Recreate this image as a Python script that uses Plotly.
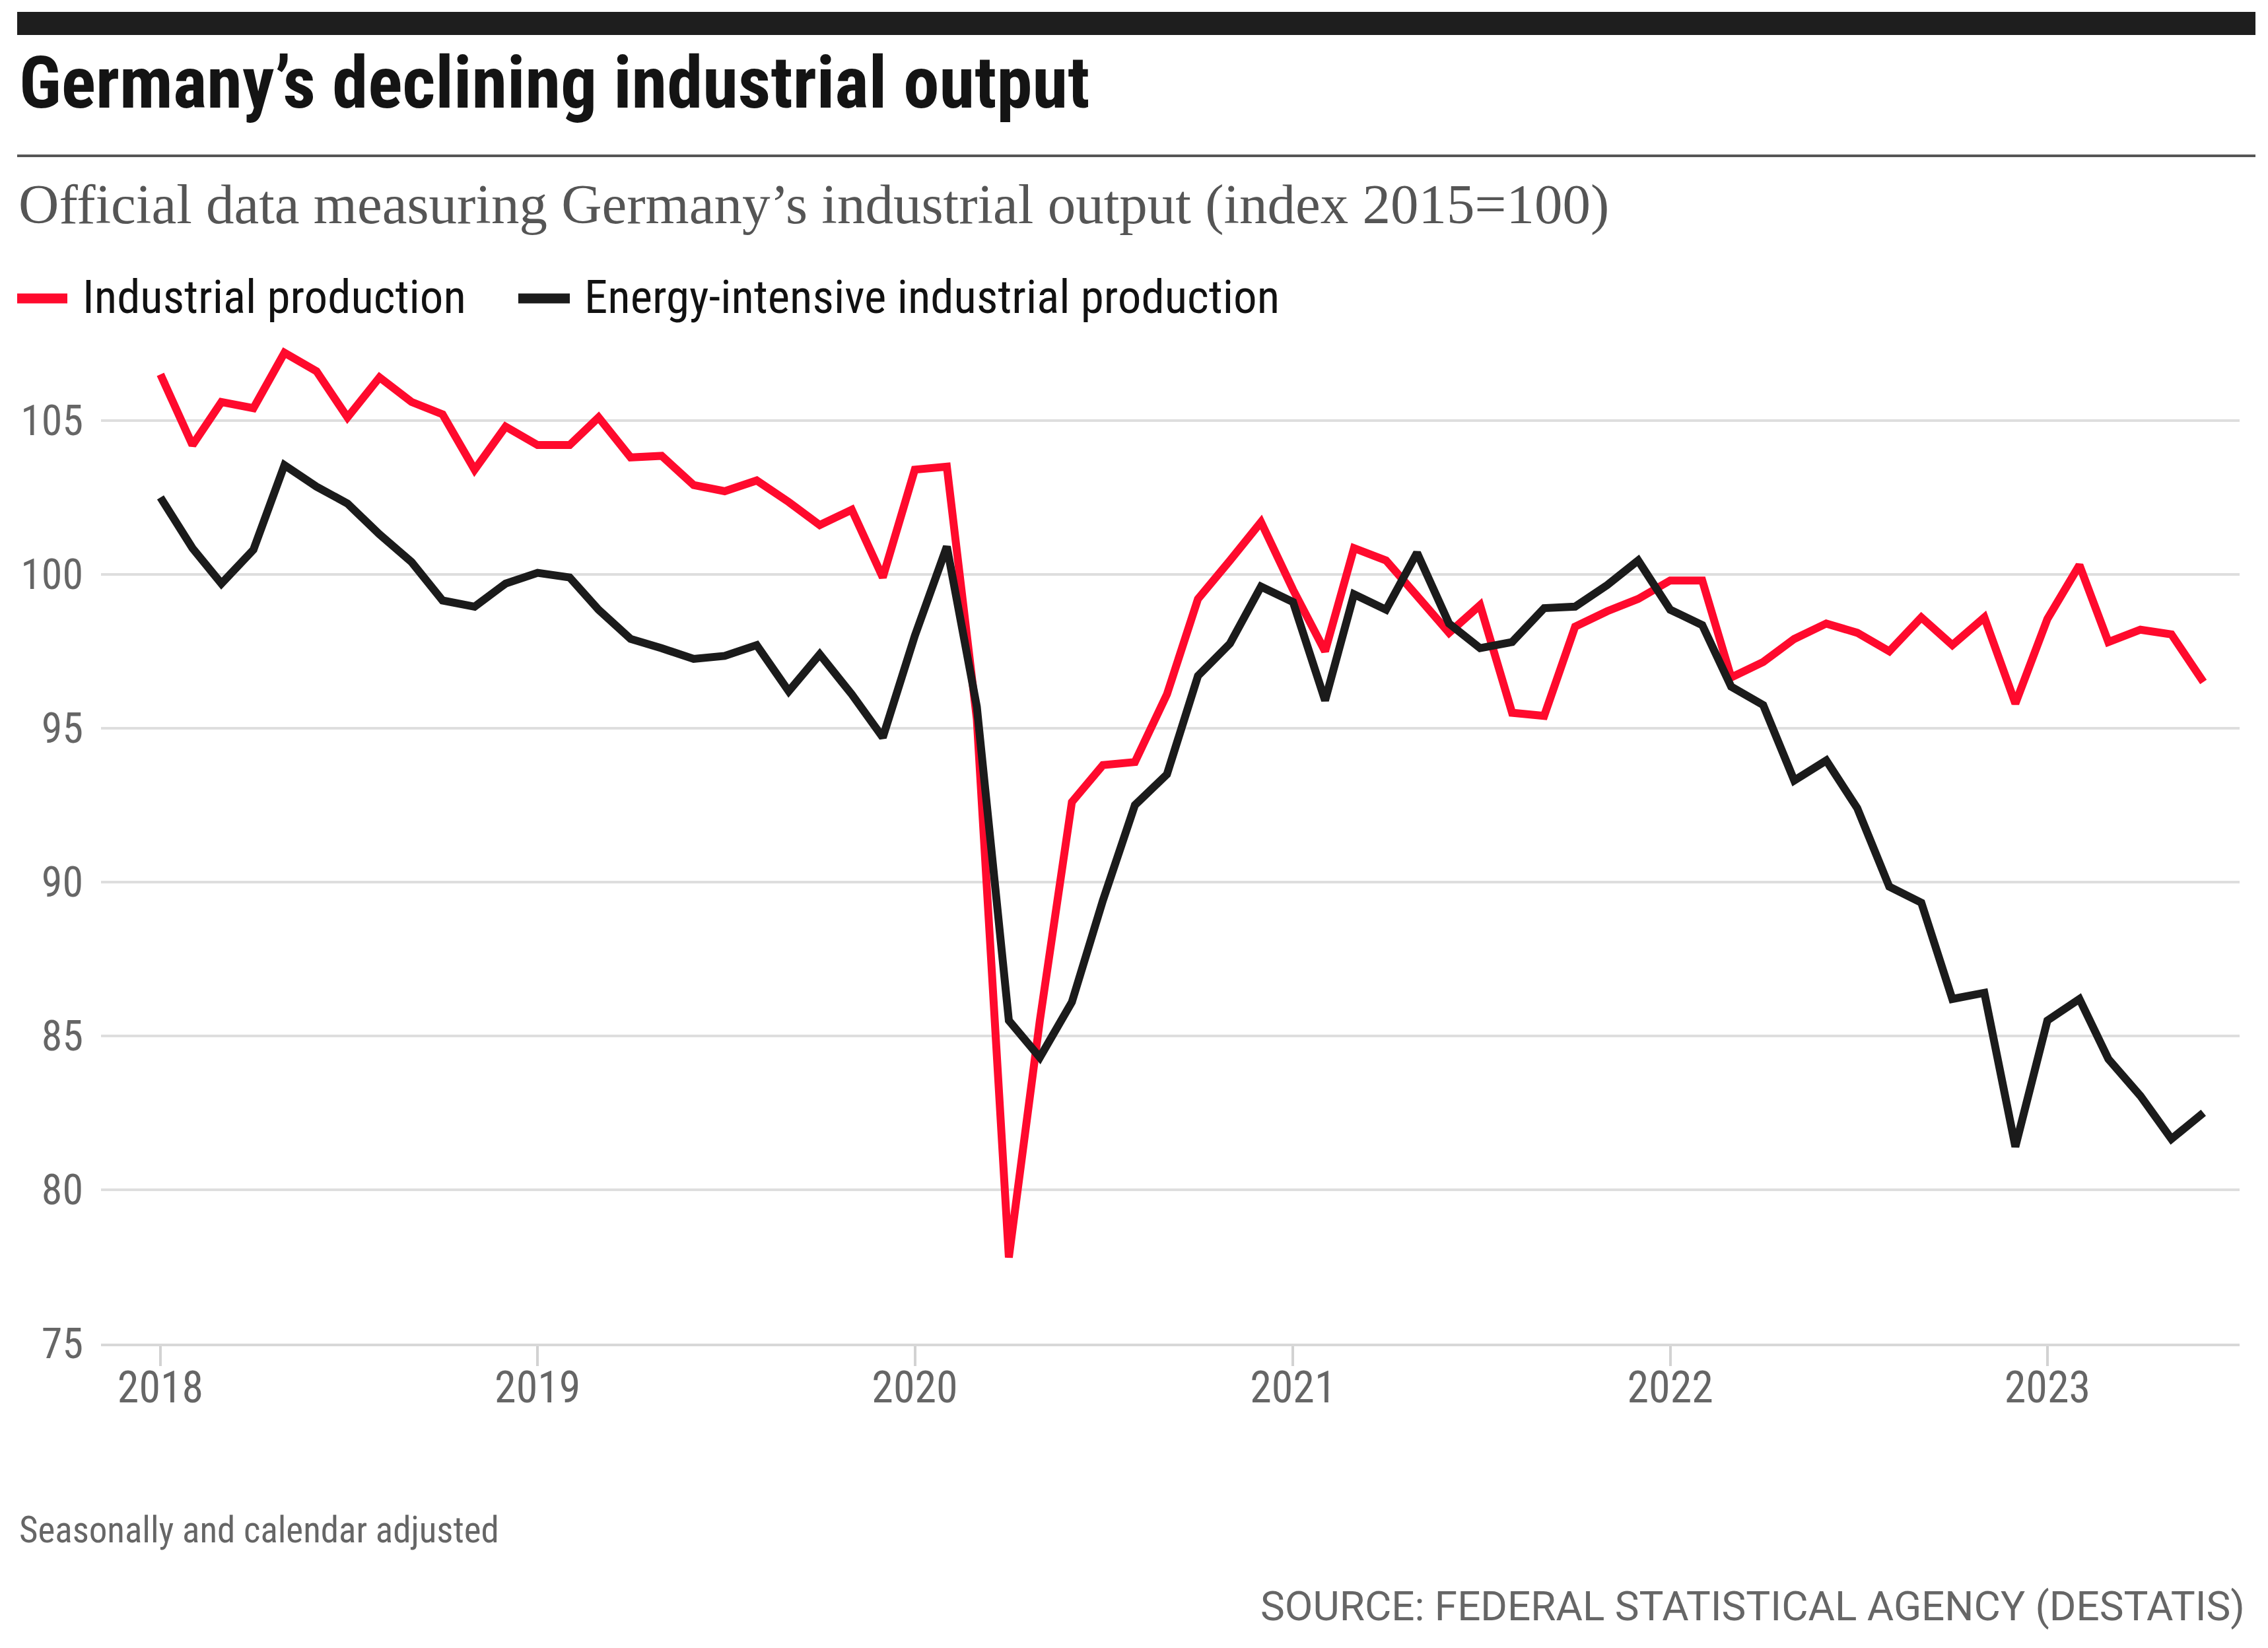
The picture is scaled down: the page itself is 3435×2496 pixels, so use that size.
import plotly.graph_objects as go
import pandas as pd

# ---- data ----
months = pd.date_range("2018-01-01", "2023-06-01", freq="MS")

industrial_production = [
    106.5, 104.2, 105.6, 105.4, 107.2, 106.6, 105.1, 106.4, 105.6, 105.2, 103.4, 104.8,   # 2018
    104.2, 104.2, 105.1, 103.8, 103.85, 102.9, 102.7, 103.05, 102.35, 101.6, 102.1, 99.9,  # 2019
    103.4, 103.5, 95.3, 77.8, 85.5, 92.6, 93.8, 93.9, 96.1, 99.2, 100.45, 101.7,          # 2020
    99.5, 97.5, 100.85, 100.45, 99.3, 98.1, 99.0, 95.5, 95.4, 98.3, 98.8, 99.2,           # 2021
    99.8, 99.8, 96.65, 97.15, 97.9, 98.4, 98.1, 97.5, 98.6, 97.7, 98.6, 95.8,             # 2022
    98.55, 100.3, 97.8, 98.2, 98.05, 96.5,                                                # 2023
]

energy_intensive_production = [
    102.5, 100.85, 99.7, 100.8, 103.55, 102.85, 102.3, 101.3, 100.4, 99.15, 98.95, 99.7,  # 2018
    100.05, 99.9, 98.85, 97.9, 97.6, 97.25, 97.35, 97.7, 96.2, 97.4, 96.1, 94.7,          # 2019
    98.0, 100.9, 95.7, 85.5, 84.3, 86.1, 89.4, 92.5, 93.5, 96.7, 97.75, 99.6,             # 2020
    99.1, 95.9, 99.35, 98.85, 100.7, 98.4, 97.6, 97.8, 98.9, 98.95, 99.65, 100.45,        # 2021
    98.85, 98.35, 96.35, 95.75, 93.3, 93.95, 92.4, 89.85, 89.33, 86.2, 86.4, 81.4,        # 2022
    85.5, 86.2, 84.25, 83.05, 81.65, 82.5,                                                # 2023
]

series_names = ["Industrial production", "Energy-intensive industrial production"]
y_ticks = [75, 80, 85, 90, 95, 100, 105]

title_text = "Germany\u2019s declining industrial output"
subtitle_text = "Official data measuring Germany\u2019s industrial output (index 2015=100)"
note_text = "Seasonally and calendar adjusted"
source_text = "SOURCE: FEDERAL STATISTICAL AGENCY (DESTATIS)"

# ---- geometry: page pixels (the page body has an 8px margin) ----
PAGE_W, PAGE_H = 3435, 2496
OFF = 8
W, H = PAGE_W - 2 * OFF, PAGE_H - 2 * OFF
PLOT_L, PLOT_R, PLOT_T, PLOT_B = 153, 3392, 497, 2035     # page coords of plot area
L = PLOT_L - OFF
R = W - (PLOT_R - OFF)
T = PLOT_T - OFF
B = H - (PLOT_B - OFF)
PW = PLOT_R - PLOT_L
PH = PLOT_B - PLOT_T

def xp(px):
    return (px - PLOT_L) / PW

def yp(py):
    return (PLOT_B - py) / PH

RED = "#ff0a2d"
BLACK = "#1b1b1b"
COND = "Roboto Condensed, DejaVu Sans Condensed, sans-serif"
SERIF = "Liberation Serif, DejaVu Serif, serif"
GREY_TXT = "#666666"

fig = go.Figure()
fig.add_trace(go.Scatter(x=months, y=industrial_production, mode="lines",
                         name=series_names[0], line=dict(color=RED, width=12),
                         showlegend=False))
fig.add_trace(go.Scatter(x=months, y=energy_intensive_production, mode="lines",
                         name=series_names[1], line=dict(color=BLACK, width=12),
                         showlegend=False))

fig.update_layout(
    width=W, height=H,
    margin=dict(l=L, r=R, t=T, b=B, pad=0),
    paper_bgcolor="white", plot_bgcolor="white",
    showlegend=False,
    xaxis=dict(
        type="date",
        range=["2017-11-04 12:00", "2023-07-06"],
        tick0="2018-01-01", dtick="M12", tickformat="%Y",
        ticks="outside", ticklen=30, tickwidth=4, tickcolor="#d2d2d2",
        showgrid=False, zeroline=False,
        showline=True, linecolor="#d8d8d8", linewidth=4,
        ticklabelstandoff=-24,
        tickfont=dict(family=COND, size=66, color=GREY_TXT),
    ),
    yaxis=dict(
        range=[75, 108],
        tickmode="array", tickvals=y_ticks, ticktext=[str(v) for v in y_ticks],
        showgrid=True, gridcolor="#dedede", gridwidth=4,
        zeroline=False, showline=False, ticks="",
        ticklabelstandoff=26,
        tickfont=dict(family=COND, size=64, color=GREY_TXT),
    ),
)

# header bar, title rule and legend keys
shapes = [
    dict(type="rect", xref="paper", yref="paper",
         x0=xp(26), x1=xp(3416), y0=yp(53), y1=yp(18),
         fillcolor="#1e1e1e", line=dict(width=0), layer="above"),
    dict(type="line", xref="paper", yref="paper",
         x0=xp(26), x1=xp(3416), y0=yp(236), y1=yp(236),
         line=dict(color="#555555", width=4)),
    dict(type="line", xref="paper", yref="paper",
         x0=xp(26), x1=xp(102), y0=yp(452), y1=yp(452),
         line=dict(color=RED, width=15)),
    dict(type="line", xref="paper", yref="paper",
         x0=xp(785), x1=xp(863), y0=yp(452), y1=yp(452),
         line=dict(color=BLACK, width=15)),
]
fig.update_layout(shapes=shapes)

def text_ann(text, x, y, font, xanchor="left"):
    return dict(text=text, x=xp(x), y=yp(y), xref="paper", yref="paper",
                xanchor=xanchor, yanchor="middle", showarrow=False, font=font)

annotations = [
    text_ann(title_text, 27, 126, dict(family=COND, size=109, weight=700, color="#141414")),
    text_ann(subtitle_text, 26, 309, dict(family=SERIF, size=85, color="#555555")),
    text_ann(series_names[0], 123, 449, dict(family=COND, size=71, color="#111111")),
    text_ann(series_names[1], 883, 449, dict(family=COND, size=71, color="#111111")),
    text_ann(note_text, 27, 2317, dict(family=COND, size=55, color=GREY_TXT)),
    text_ann(source_text, 3402, 2432, dict(family="Roboto, sans-serif", size=62, color=GREY_TXT),
             xanchor="right"),
]
fig.update_layout(annotations=annotations)

fig.write_html("out.html")
